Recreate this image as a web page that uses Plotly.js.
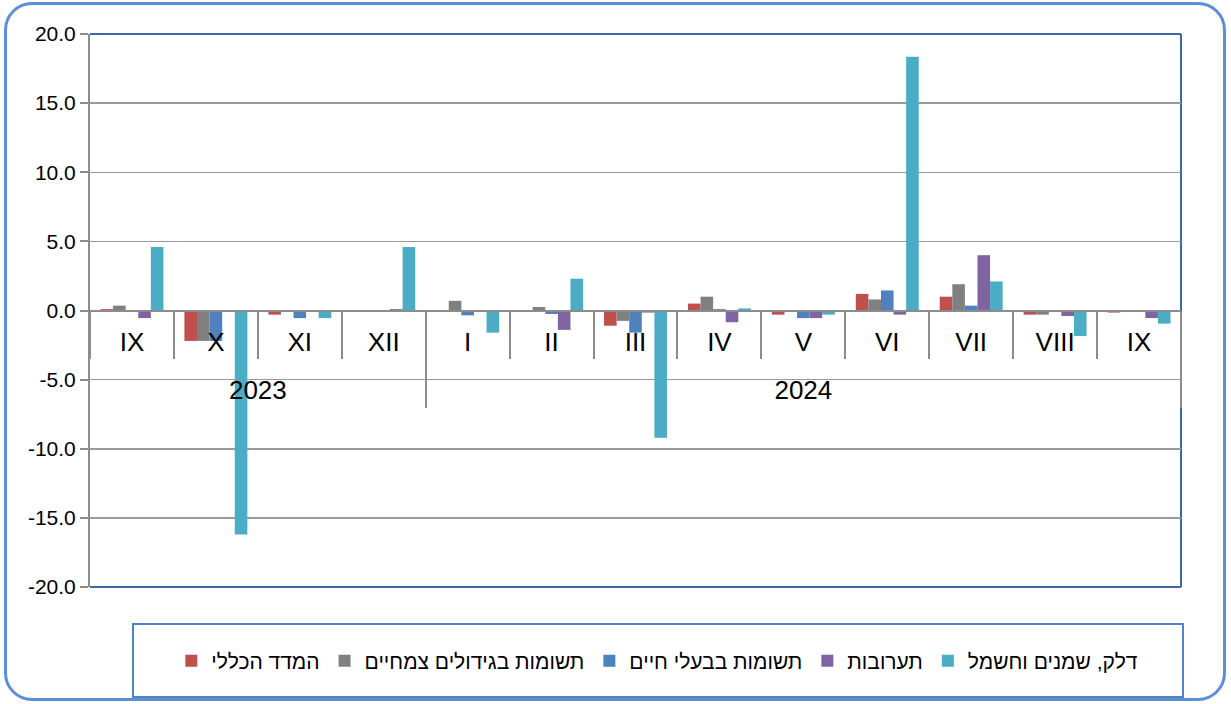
<!DOCTYPE html>
<html>
<head>
<meta charset="utf-8">
<script src="https://cdn.plot.ly/plotly-3.0.1.min.js"></script>
<style>
  html, body { margin: 0; padding: 0; background: #ffffff; }
  #wrap { position: relative; width: 1231px; height: 704px; overflow: hidden; background: #ffffff; }
  #chart { position: absolute; left: 0; top: 0; width: 1231px; height: 704px; }
  #frame { position: absolute; left: 4px; top: 2px; width: 1222px; height: 699px;
           border: 3px solid #5B8FD6; border-radius: 28px; box-sizing: border-box; pointer-events: none; }
</style>
</head>
<body>
<div id="wrap">
  <div id="chart"></div>
  <div id="frame"></div>
</div>
<script>
const years = ['2023','2023','2023','2023','2024','2024','2024','2024','2024','2024','2024','2024','2024'];
const months = ['IX','X','XI','XII','I','II','III','IV','V','VI','VII','VIII','IX'];

const seriesNames = ['המדד הכללי', 'תשומות בגידולים צמחיים', 'תשומות בבעלי חיים', 'תערובות', 'דלק, שמנים וחשמל'];
const generalIndex = [0.1, -2.2, -0.3, 0.0, 0.0, 0.0, -1.1, 0.5, -0.3, 1.2, 1.0, -0.3, -0.15];
const cropInputs   = [0.35, -2.2, 0.0, 0.0, 0.7, 0.25, -0.75, 1.0, 0.0, 0.8, 1.9, -0.3, 0.0];
const animalInputs = [0.0, -2.2, -0.55, 0.0, -0.35, -0.25, -1.6, 0.1, -0.55, 1.45, 0.35, -0.1, -0.1];
const feedMix      = [-0.55, 0.0, 0.0, 0.1, 0.0, -1.4, -0.15, -0.85, -0.55, -0.3, 4.0, -0.4, -0.55];
const fuelOilPower = [4.6, -16.2, -0.55, 4.6, -1.6, 2.3, -9.2, 0.15, -0.3, 18.35, 2.1, -1.85, -0.95];

const yTickValues = [-20, -15, -10, -5, 0, 5, 10, 15, 20];
const yTickLabels = yTickValues.map(v => v.toFixed(1));

const seriesValues = [generalIndex, cropInputs, animalInputs, feedMix, fuelOilPower];
const colors = ['#C0504D', '#808080', '#4F81BD', '#8064A2', '#4BACC6'];

const fontFam = 'Liberation Sans, Arial, DejaVu Sans, sans-serif';

// unique category ids (month + year) so the repeated month keeps its own slot
const catIds = months.map((m, i) => m + ' ' + years[i]);
const n = months.length;

// year groups: centers for labels, boundaries for dividers
const yearGroups = [];
years.forEach((y, i) => {
  const last = yearGroups[yearGroups.length - 1];
  if (!last || last.year !== y) yearGroups.push({ year: y, start: i, end: i });
  else last.end = i;
});
const yearCenters = yearGroups.map(g => (g.start + g.end) / 2);
const yearLabels = yearGroups.map(g => g.year);
const yearBounds = yearGroups.map(g => g.end + 0.5);

const traces = seriesValues.map((vals, i) => ({
  type: 'bar',
  name: seriesNames[i],
  x: catIds,
  y: vals,
  marker: { color: colors[i] },
  hoverinfo: 'skip'
}));
// empty (no-mark) traces so the helper axes on the zero line get drawn
traces.push({ type: 'scatter', mode: 'markers', x: yearBounds, y: yearBounds.map(() => null),
  xaxis: 'x2', yaxis: 'y2', showlegend: false, hoverinfo: 'skip' });
traces.push({ type: 'scatter', mode: 'markers', x: yearCenters, y: yearCenters.map(() => null),
  xaxis: 'x3', yaxis: 'y2', showlegend: false, hoverinfo: 'skip' });

const gray = '#8C8C8C';
const blueEdge = '#3F67A3';
const xRange = [-0.5, n - 0.5];

const layout = {
  width: 1231,
  height: 704,
  margin: { l: 90, r: 50, t: 34, b: 117 },
  paper_bgcolor: 'rgba(0,0,0,0)',
  plot_bgcolor: 'rgba(0,0,0,0)',
  barmode: 'group',
  bargap: 0.25,
  bargroupgap: 0,
  font: { family: fontFam, color: '#000000' },
  xaxis: {
    type: 'category',
    categoryorder: 'array',
    categoryarray: catIds,
    range: xRange,
    anchor: 'free',
    position: 0.5,
    showline: true,
    linecolor: gray,
    linewidth: 2,
    ticks: '',
    tickmode: 'array',
    tickvals: catIds,
    ticktext: months,
    ticklabelstandoff: 8,
    showgrid: false,
    zeroline: false,
    tickfont: { size: 26, family: fontFam, color: '#000000' }
  },
  // helper axes sitting on the zero line: category separators and year labels
  yaxis2: {
    domain: [0.5, 1],
    anchor: 'x2',
    range: [0, 1],
    showline: false,
    showticklabels: false,
    ticks: '',
    showgrid: false,
    zeroline: false
  },
  xaxis2: {
    type: 'linear',
    anchor: 'y2',
    range: xRange,
    showline: false,
    showgrid: false,
    zeroline: false,
    showticklabels: false,
    ticks: 'outside',
    tickmode: 'array',
    tickvals: yearBounds,
    ticklen: 96,
    tickwidth: 2,
    tickcolor: gray,
    minor: { ticks: 'outside', tickmode: 'linear', tick0: 0.5, dtick: 1, ticklen: 47, tickwidth: 2, tickcolor: gray, showgrid: false }
  },
  xaxis3: {
    type: 'linear',
    anchor: 'y2',
    overlaying: 'x2',
    range: xRange,
    showline: false,
    showgrid: false,
    zeroline: false,
    ticks: '',
    tickmode: 'array',
    tickvals: yearCenters,
    ticktext: yearLabels,
    ticklabelstandoff: 61,
    tickfont: { size: 26, family: fontFam, color: '#000000' }
  },
  yaxis: {
    range: [-20, 20],
    tickmode: 'array',
    tickvals: yTickValues,
    ticktext: yTickLabels,
    ticks: 'outside',
    ticklen: 8,
    tickwidth: 2,
    tickcolor: gray,
    showline: true,
    linecolor: gray,
    linewidth: 2,
    showgrid: true,
    gridcolor: '#9A9A9A',
    gridwidth: 1.5,
    zeroline: false,
    tickfont: { size: 21, family: fontFam, color: '#000000' }
  },
  showlegend: true,
  legend: {
    orientation: 'h',
    x: 0.52,
    xanchor: 'center',
    y: -0.134,
    yanchor: 'middle',
    traceorder: 'normal',
    bgcolor: 'rgba(0,0,0,0)',
    font: { size: 21, family: fontFam, color: '#000000' }
  },
  shapes: [
    { type: 'line', xref: 'paper', yref: 'paper', x0: 0, x1: 1, y0: 1, y1: 1, line: { color: blueEdge, width: 2 } },
    { type: 'line', xref: 'paper', yref: 'paper', x0: 0, x1: 1, y0: 0, y1: 0, line: { color: blueEdge, width: 2 } },
    { type: 'line', xref: 'paper', yref: 'paper', x0: 1, x1: 1, y0: 0, y1: 1, line: { color: blueEdge, width: 2 }, layer: 'below' },
    { type: 'rect', xref: 'paper', yref: 'paper', x0: 0.0394, x1: 1.0018, y0: -0.0669, y1: -0.1989, line: { color: '#4F81C8', width: 2 } }
  ]
};

Plotly.newPlot('chart', traces, layout, { staticPlot: true, displayModeBar: false });
</script>
</body>
</html>
